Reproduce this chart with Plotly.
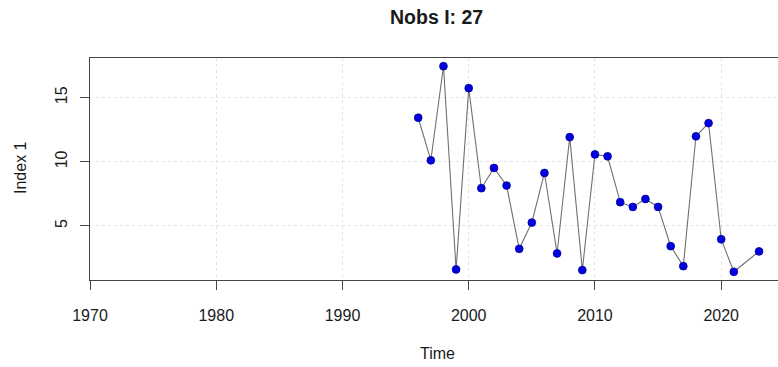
import plotly.graph_objects as go

# Survey index series (year, value); 2022 has no observation
years = [1996, 1997, 1998, 1999, 2000, 2001, 2002, 2003, 2004, 2005,
         2006, 2007, 2008, 2009, 2010, 2011, 2012, 2013, 2014, 2015,
         2016, 2017, 2018, 2019, 2020, 2021, 2023]
index1 = [13.44, 10.12, 17.46, 1.60, 15.75, 7.94, 9.52, 8.15, 3.21, 5.26,
          9.13, 2.85, 11.93, 1.55, 10.58, 10.43, 6.85, 6.48, 7.10, 6.48,
          3.42, 1.86, 11.99, 13.02, 3.96, 1.42, 3.01]

x_ticks = [1970, 1980, 1990, 2000, 2010, 2020]
y_ticks = [5, 10, 15]

title_text = f"Nobs I: {len(years)}"
x_title = "Time"
y_title = "Index 1"

FONT = "Liberation Sans, Arial, sans-serif"
TXT = "#1a1a1a"

# Plot area in pixels
L, T, B, W, H = 90, 58, 87, 778, 367
plot_w = W - L
plot_h = H - T - B

fig = go.Figure()
fig.add_trace(go.Scatter(
    x=years, y=index1, mode="lines+markers",
    line=dict(color="#707070", width=1.1),
    marker=dict(color="#0000e0", size=7.8, line=dict(color="#00009a", width=0.8)),
    showlegend=False,
))

ymin, ymax = min(index1), max(index1)
pad = 0.04 * (ymax - ymin)

axis_common = dict(
    showline=True, linecolor="#444444", linewidth=1, mirror=True,
    ticks="outside", ticklen=9, tickcolor="#444444", tickwidth=1,
    showgrid=True, gridcolor="#e4e4e4", griddash="dot", gridwidth=1,
    zeroline=False,
    tickfont=dict(family=FONT, size=16, color=TXT),
)

fig.update_layout(
    width=W, height=H,
    margin=dict(l=L, r=0, t=T, b=B),
    paper_bgcolor="white", plot_bgcolor="white",
    xaxis=dict(range=[1970, 2024.5], tickvals=x_ticks,
               ticklabelstandoff=12, **axis_common),
    yaxis=dict(range=[ymin - pad, ymax + pad], tickvals=y_ticks,
               tickangle=-90, ticklabelstandoff=7, **axis_common),
    annotations=[
        dict(text=f"<b>{title_text}</b>",
             x=(436 - L) / plot_w, y=1 + (T - 17) / plot_h,
             xref="paper", yref="paper", xanchor="center", yanchor="middle",
             showarrow=False, font=dict(family=FONT, size=19.5, color=TXT)),
        dict(text=x_title,
             x=(437 - L) / plot_w, y=-(353 - (H - B)) / plot_h,
             xref="paper", yref="paper", xanchor="center", yanchor="middle",
             showarrow=False, font=dict(family=FONT, size=16, color=TXT)),
        dict(text=y_title,
             x=-(L - 20) / plot_w, y=((H - B) - 168) / plot_h,
             xref="paper", yref="paper", xanchor="center", yanchor="middle",
             showarrow=False, textangle=-90,
             font=dict(family=FONT, size=16, color=TXT)),
    ],
)

fig.write_html("out.html")
